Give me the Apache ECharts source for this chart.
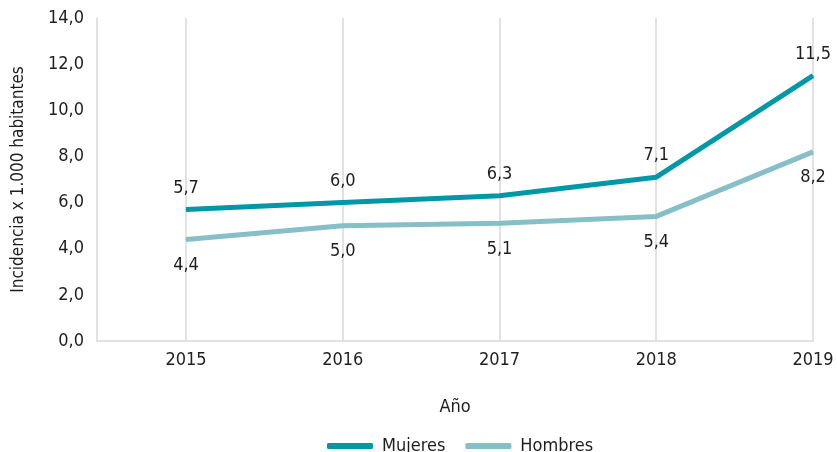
<!DOCTYPE html>
<html>
<head>
<meta charset="utf-8">
<script src="https://cdn.jsdelivr.net/npm/echarts@6/dist/echarts.min.js"></script>
<style>
  html, body { margin: 0; padding: 0; background: #fff; }
  #chart { width: 837px; height: 452px; }
</style>
</head>
<body>
<div id="chart"></div>
<script>
const years = [2015, 2016, 2017, 2018, 2019];
const mujeres = [5.7, 6.0, 6.3, 7.1, 11.5];
const hombres = [4.4, 5.0, 5.1, 5.4, 8.2];

const FONT = "'DejaVu Sans Condensed', sans-serif";
const TXT = '#1e1e1e';

function fmt(v) {
  return v.toFixed(1).replace('.', ',');
}

function pairs(vals) {
  return years.map((y, i) => [y, vals[i]]);
}

let myChart = echarts.init(document.getElementById('chart'));
let option = {
  animation: false,
  textStyle: { fontFamily: FONT, color: TXT },
  grid: { left: 97, right: 24, top: 18, bottom: 111 },
  legend: {
    left: 322,
    top: 432,
    itemGap: 20,
    itemWidth: 46,
    itemHeight: 6,
    icon: 'roundRect',
    textStyle: { fontFamily: FONT, fontSize: 18, color: TXT, padding: [0, 0, 0, 4] },
    data: ['Mujeres', 'Hombres']
  },
  xAxis: {
    type: 'value',
    min: 2015 - 89 / 156.75,
    max: 2019,
    name: 'Año',
    nameLocation: 'middle',
    nameGap: 57,
    nameTextStyle: { fontFamily: FONT, fontSize: 18, color: TXT },
    axisLine: { show: true, lineStyle: { color: '#d9d9d9', width: 1.5 } },
    axisTick: { show: false, customValues: years },
    axisLabel: {
      customValues: years,
      margin: 10,
      fontFamily: FONT,
      fontSize: 18,
      color: TXT,
      formatter: v => String(v)
    },
    splitLine: { show: true, lineStyle: { color: '#d9d9d9', width: 1.5 } }
  },
  yAxis: {
    type: 'value',
    min: 0,
    max: 14,
    interval: 2,
    name: 'Incidencia x 1.000 habitantes',
    nameLocation: 'middle',
    nameGap: 70,
    nameTextStyle: { fontFamily: FONT, fontSize: 17, color: TXT },
    axisLine: { show: true, lineStyle: { color: '#d9d9d9', width: 1.5 } },
    axisTick: { show: false },
    splitLine: { show: false },
    axisLabel: {
      margin: 13,
      fontFamily: FONT,
      fontSize: 18,
      color: TXT,
      formatter: v => fmt(v)
    }
  },
  series: [
    {
      name: 'Mujeres',
      type: 'line',
      data: pairs(mujeres),
      symbol: 'circle',
      symbolSize: 1,
      showSymbol: true,
      lineStyle: { color: '#0097a7', width: 5 },
      itemStyle: { color: '#0097a7' },
      label: {
        show: true,
        position: 'top',
        distance: 12,
        fontFamily: FONT,
        fontSize: 18,
        color: TXT,
        formatter: p => fmt(p.value[1])
      }
    },
    {
      name: 'Hombres',
      type: 'line',
      data: pairs(hombres),
      symbol: 'circle',
      symbolSize: 1,
      showSymbol: true,
      lineStyle: { color: '#86bfc8', width: 5 },
      itemStyle: { color: '#86bfc8' },
      label: {
        show: true,
        position: 'bottom',
        distance: 16,
        fontFamily: FONT,
        fontSize: 18,
        color: TXT,
        formatter: p => fmt(p.value[1])
      }
    }
  ]
};
myChart.setOption(option);
</script>
</body>
</html>
